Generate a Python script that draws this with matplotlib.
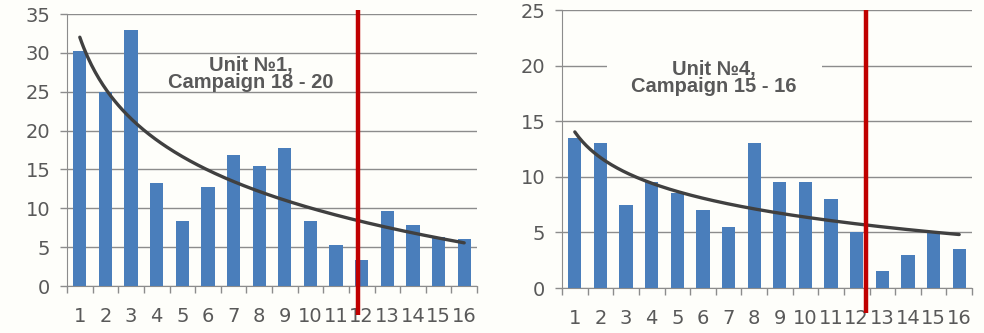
import numpy as np
import matplotlib
matplotlib.use("Agg")
import matplotlib.pyplot as plt
from matplotlib import font_manager

categories = list(range(1, 17))
unit1_values = [30.3, 25.0, 33.0, 13.3, 8.3, 12.8, 16.8, 15.4, 17.7, 8.3, 5.3, 3.4, 9.7, 7.8, 6.3, 6.1]
unit4_values = [13.5, 13.0, 7.5, 9.5, 8.5, 7.0, 5.5, 13.0, 9.5, 9.5, 8.0, 5.0, 1.5, 3.0, 5.0, 3.5]
titles = ["Unit №1,\nCampaign 18 - 20", "Unit №4,\nCampaign 15 - 16"]
ymax = [35, 25]
marker_pos = [11.86, 12.35]

names = {f.name for f in font_manager.fontManager.ttflist}
tick_font = "Liberation Sans Narrow" if "Liberation Sans Narrow" in names else "DejaVu Sans"

BG = "#fefefa"
BAR = "#4a7ebb"
GRID = "#8c8c8c"
TXT = "#595959"

fig = plt.figure(figsize=(9.84, 3.33), dpi=100, facecolor=BG)
positions = [[67/984, 1-286/333, 410/984, 272/333],
             [562/984, 1-288/333, 410/984, 278/333]]
text_pos = [(251/984, 1-74/333), (714/984, 1-78/333)]
marker_bottom_px = [315, 313]
marker_top_px = [10, 10]

for i, vals in enumerate([unit1_values, unit4_values]):
    ax = fig.add_axes(positions[i])
    ax.set_facecolor(BG)
    x = np.array(categories, dtype=float)
    y = np.array(vals)
    ax.bar(x, y, width=0.52, color=BAR, zorder=3)
    # logarithmic trendline (least squares fit)
    b, a = np.polyfit(np.log(x), y, 1)
    xs = np.linspace(1, 16, 200)
    ax.plot(xs, a + b*np.log(xs), color="#404040", lw=2.4, zorder=4, solid_capstyle="round")
    ax.set_xlim(0.5, 16.5)
    ax.set_ylim(0, ymax[i])
    ax.set_yticks(np.arange(0, ymax[i]+1, 5))
    ax.yaxis.grid(True, color=GRID, lw=1.0, zorder=0)
    ax.set_xticks(categories)
    ax.set_xticklabels([str(c) for c in categories])
    ax.set_xticks(np.arange(0.5, 17, 1), minor=True)
    ax.tick_params(axis="x", which="major", length=0, pad=15, labelsize=14, labelcolor=TXT)
    ax.tick_params(axis="x", which="minor", length=5, color=GRID, width=1)
    ax.tick_params(axis="y", length=5, color=GRID, width=1, labelsize=14, labelcolor=TXT, pad=7)
    for lab in ax.get_xticklabels() + ax.get_yticklabels():
        lab.set_family(tick_font)
    for s in ["top", "right"]:
        ax.spines[s].set_visible(False)
    ax.spines["left"].set_color(GRID)
    ax.spines["bottom"].set_color(GRID)
    # red marker line
    h_px = positions[i][3] * 333
    base_px = (1 - positions[i][1]) * 333
    ppu = h_px / ymax[i]
    y_top = (base_px - marker_top_px[i]) / ppu
    y_bot = (base_px - marker_bottom_px[i]) / ppu
    ax.plot([marker_pos[i]]*2, [y_bot, y_top], color="#c00000", lw=3.2,
            zorder=5, clip_on=False, solid_capstyle="butt")
    if i == 0:
        bbox = None
    else:
        bbox = dict(boxstyle="square,pad=0.3", fc=BG, ec="none")
    t = fig.text(text_pos[i][0], text_pos[i][1], titles[i], ha="center", va="center",
                 fontsize=14.5, fontweight="bold", color=TXT, family="Liberation Sans",
                 linespacing=0.9, bbox=bbox, zorder=6)
    if i == 1:
        # white label box wider than text (as in the reference)
        from matplotlib.patches import Rectangle
        t.set_bbox(None)
        ax.add_patch(Rectangle((607/984, 1-88/333), 215/984, 40/333, transform=fig.transFigure,
                               fc=BG, ec="none", zorder=2, clip_on=False))

fig.savefig("out.png", dpi=100, facecolor=BG)
